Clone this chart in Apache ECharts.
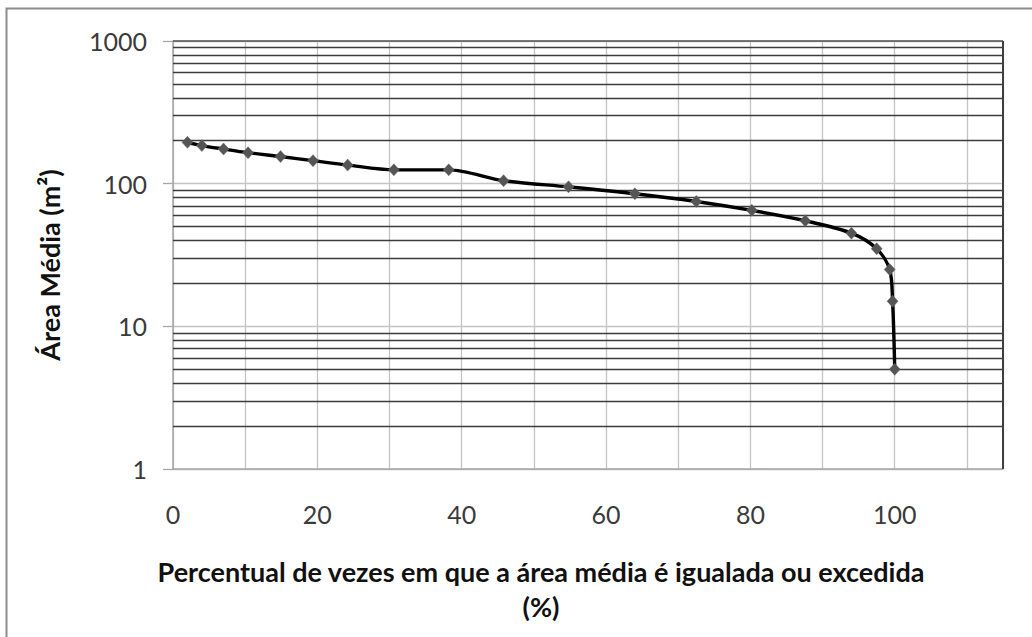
<!DOCTYPE html>
<html>
<head>
<meta charset="utf-8">
<script src="https://cdn.jsdelivr.net/npm/echarts@6/dist/echarts.min.js"></script>
<style>
  html, body { margin: 0; padding: 0; background: #fff; }
  #chart { width: 1032px; height: 637px; }
</style>
</head>
<body>
<div id="chart"></div>
<script>
// Permanence curve: percentage of times the mean area is equalled or exceeded
const pctExceeded = [2.0, 4.0, 7.0, 10.4, 14.9, 19.4, 24.2, 30.6, 38.2, 45.8, 54.8, 64.0, 72.5, 80.2, 87.6, 94.0, 97.5, 99.3, 99.7, 100];
const meanArea = [195, 185, 175, 165, 155, 145, 135, 125, 125, 105, 95, 85, 75, 65, 55, 45, 35, 25, 15, 5];

// Axis tick labels
const xTickLabels = [0, 20, 40, 60, 80, 100];
const yTickLabels = [1, 10, 100, 1000];

// Intermediate log-scale reference lines (2..9 within each decade)
const minorGridValues = [2, 3, 4, 5, 6, 7, 8, 9, 20, 30, 40, 50, 60, 70, 80, 90, 200, 300, 400, 500, 600, 700, 800, 900];

const xTitle = 'Percentual de vezes em que a área média é igualada ou excedida\n(%)';
const yTitle = 'Área Média (m²)';

const FONT = 'Lato, "Open Sans", sans-serif';

const chart = echarts.init(document.getElementById('chart'), null, { renderer: 'svg' });

const minorLines = minorGridValues.map(v => ({ yAxis: v, lineStyle: { type: 'solid', color: '#3c3c3c', width: 1.4 } }));
// dark frame on the top and right edges of the plot area
const frameLines = [
  { yAxis: 1000, lineStyle: { type: 'solid', color: '#505050', width: 1.6 } },
  { xAxis: 115, lineStyle: { type: 'solid', color: '#404040', width: 2 } }
];

chart.setOption({
  animation: false,
  backgroundColor: '#fff',
  grid: { left: 173, right: 29, top: 41, bottom: 168, containLabel: false },
  xAxis: {
    type: 'value',
    min: 0,
    max: 115,
    interval: 10,
    axisLine: { show: true, lineStyle: { color: '#a6a6a6', width: 1.5 } },
    axisTick: { show: false },
    axisLabel: {
      margin: 32,
      color: '#3a3a3a',
      fontFamily: FONT,
      fontSize: 25,
      showMaxLabel: false,
      formatter: v => (xTickLabels.includes(v) ? String(v) : '')
    },
    splitLine: { show: true, lineStyle: { color: '#c4c4c4', width: 1.3 } }
  },
  yAxis: {
    type: 'log',
    logBase: 10,
    min: 1,
    max: 1000,
    axisLine: { show: true, lineStyle: { color: '#a6a6a6', width: 1.5 } },
    axisTick: { show: true, length: 10, lineStyle: { color: '#a6a6a6', width: 1.3 } },
    axisLabel: {
      margin: 26,
      color: '#3a3a3a',
      fontFamily: FONT,
      fontSize: 25,
      formatter: v => {
        const hit = yTickLabels.find(t => Math.abs(t - v) < 1e-6 * t);
        return hit !== undefined ? String(hit) : '';
      }
    },
    splitLine: { show: true, lineStyle: { color: '#c4c4c4', width: 1.3 } },
    name: yTitle,
    nameLocation: 'middle',
    nameRotate: 90,
    nameGap: 110,
    nameTextStyle: {
      fontFamily: FONT,
      fontSize: 27,
      fontWeight: 'bold',
      color: '#111',
      padding: [0, 20, 0, 0]
    }
  },
  graphic: [
    {
      type: 'rect',
      silent: true,
      z: -1,
      shape: { x: 6.5, y: 8.5, width: 1100, height: 700 },
      style: { fill: 'none', stroke: '#8c8c8c', lineWidth: 2 }
    },
    {
      type: 'text',
      silent: true,
      x: 541,
      y: 589,
      style: {
        text: xTitle,
        align: 'center',
        verticalAlign: 'middle',
        font: 'bold 27px ' + FONT,
        lineHeight: 35,
        fill: '#111'
      }
    }
  ],
  series: [
    {
      type: 'line',
      data: pctExceeded.map((x, i) => [x, meanArea[i]]),
      smooth: 0.3,
      symbol: 'diamond',
      symbolSize: [11, 12],
      itemStyle: { color: '#555555', borderColor: '#6a6a6a', borderWidth: 0.5 },
      lineStyle: { color: '#000', width: 3.4 },
      z: 5,
      markLine: {
        silent: true,
        symbol: ['none', 'none'],
        label: { show: false },
        emphasis: { disabled: true },
        z: 1,
        data: minorLines.concat(frameLines)
      }
    }
  ]
});
</script>
</body>
</html>
